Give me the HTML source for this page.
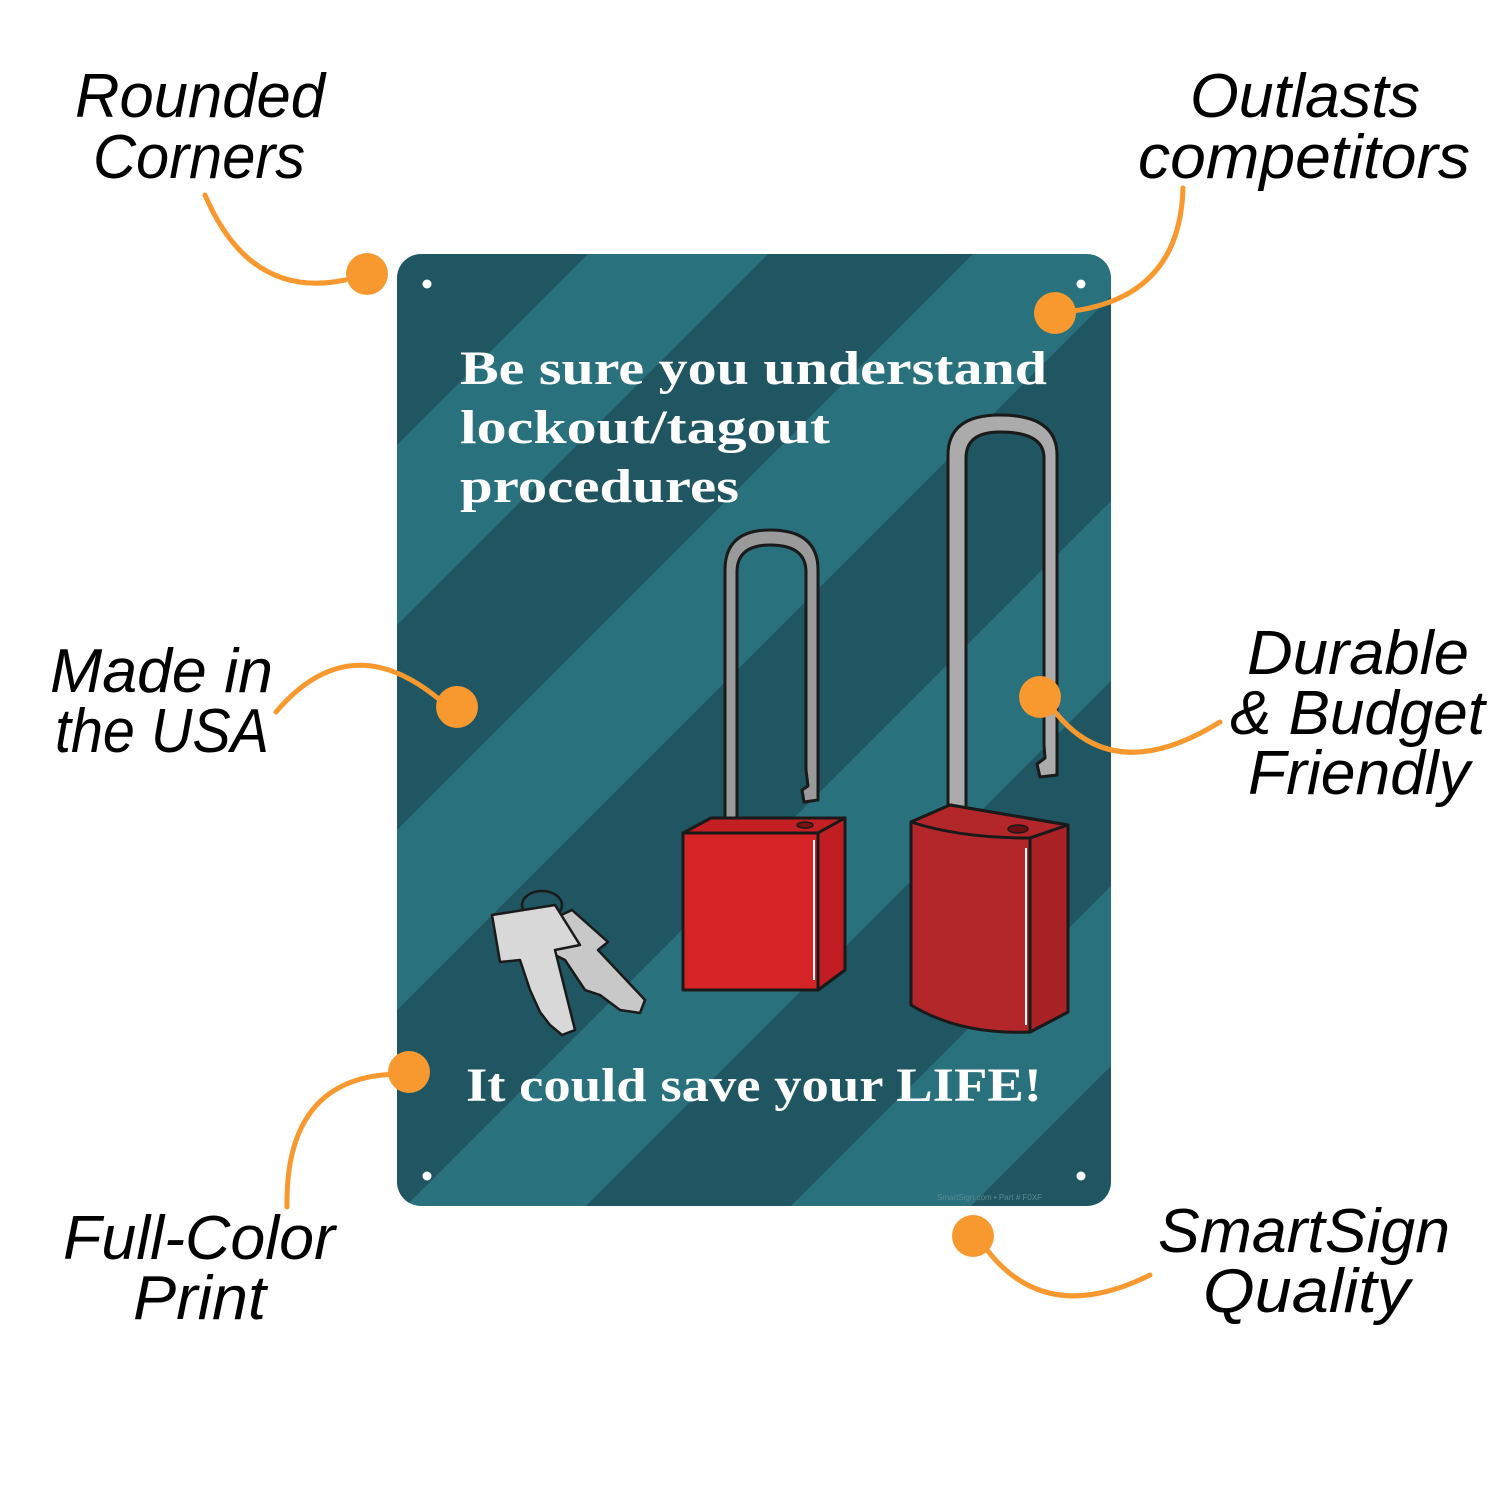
<!DOCTYPE html>
<html><head><meta charset="utf-8"><style>
html,body{margin:0;padding:0;background:#fff;width:1500px;height:1500px;overflow:hidden}
svg{display:block}
</style></head><body>
<svg width="1500" height="1500" viewBox="0 0 1500 1500" xmlns="http://www.w3.org/2000/svg">
<defs>
<pattern id="st" patternUnits="userSpaceOnUse" width="272.2" height="100" patternTransform="rotate(45)">
<rect x="0" y="0" width="272.2" height="100" fill="#1f5662"/>
<rect x="51" y="0" width="127.3" height="100" fill="#29717c"/>
</pattern>
</defs>
<rect x="397" y="254" width="714" height="952" rx="24" fill="url(#st)"/>
<g fill="#fff">
<circle cx="427" cy="284" r="4.5"/><circle cx="1081" cy="284" r="4.5"/>
<circle cx="427" cy="1176" r="4.5"/><circle cx="1081" cy="1176" r="4.5"/>
</g>
<g font-family="Liberation Serif, serif" font-weight="bold" fill="#fff">
<text x="460" y="384" font-size="48" textLength="587" lengthAdjust="spacingAndGlyphs">Be sure you understand</text>
<text x="460" y="443" font-size="48" textLength="370" lengthAdjust="spacingAndGlyphs">lockout/tagout</text>
<text x="460" y="502" font-size="48" textLength="279" lengthAdjust="spacingAndGlyphs">procedures</text>
<text x="466" y="1101" font-size="48" textLength="576" lengthAdjust="spacingAndGlyphs">It could save your LIFE!</text>
</g>
<text x="937" y="1200" font-family="Liberation Sans, sans-serif" font-size="8" fill="#5a8a92">SmartSign.com • Part # F0XF</text>

<g stroke="#1a1a1a" stroke-width="3" stroke-linejoin="round">
<path d="M725,826 L725,570 Q725,530 770,530 Q818,530 818,570 L818,800 L804,802 L802,790 L808,786 L806,770 L806,572 Q806,545 770,545 Q737,545 737,572 L737,826 Z" fill="#9a9a9a"/>
<path d="M683,833 L818,818 L845,818 L845,970 L818,990 L683,990 Z" fill="#d62326"/>
<path d="M683,833 L711,818 L845,818 L818,833 Z" fill="#c41f22"/>
<path d="M818,833 L845,818 L845,970 L818,990 Z" fill="#c01e22"/>
<ellipse cx="805" cy="825" rx="8" ry="3" fill="#7a1214" stroke-width="1.5"/>
</g>
<line x1="814" y1="840" x2="814" y2="980" stroke="#fff" stroke-width="2"/>
<g stroke="#1a1a1a" stroke-width="3" stroke-linejoin="round">
<path d="M948,816 L948,455 Q948,415 1000,415 Q1057,415 1057,455 L1057,775 L1040,777 L1037,764 L1045,758 L1044,745 L1044,458 Q1044,432 1000,432 Q966,432 966,458 L966,816 Z" fill="#ababab"/>
<path d="M911,822 L950,805 L1068,825 L1068,1012 L1030,1032 Q960,1035 911,1005 Z" fill="#b3262a"/>
<path d="M911,822 L950,805 L1068,825 L1030,838 Q960,838 911,822 Z" fill="#b3262a"/>
<path d="M1030,838 L1068,825 L1068,1012 L1030,1032 Z" fill="#a82226"/>
<ellipse cx="1018" cy="829" rx="10" ry="4" fill="#6a1012" stroke-width="1.5"/>
</g>
<line x1="1026" y1="848" x2="1026" y2="1025" stroke="#fff" stroke-width="2"/>
<g stroke="#1a1a1a" stroke-width="2.5" stroke-linejoin="round" fill="#c8c8c8">
<ellipse cx="542" cy="905" rx="20" ry="14" fill="none"/>
<path d="M540,925 L572,910 L608,942 L598,950 L645,1000 L640,1013 L620,1010 L600,995 L585,990 L575,975 L565,960 L545,950 Z"/>
<path d="M492,915 L555,905 L580,945 L555,950 L575,1030 L562,1035 L550,1025 L540,1012 L530,990 L520,960 L500,962 Z" fill="#d8d8d8"/>
</g>

<g stroke="#f7992f" stroke-width="5" fill="none" stroke-linecap="round">
<path d="M205,195 Q250,300 345,280"/>
<path d="M1183,188 Q1180,300 1065,312"/>
<path d="M276,712 Q350,625 440,700"/>
<path d="M1050,705 Q1110,790 1220,722"/>
<path d="M400,1074 Q285,1075 287,1207"/>
<path d="M980,1240 Q1040,1330 1150,1275"/>
</g>
<g fill="#f7992f">
<circle cx="367" cy="274" r="21"/>
<circle cx="1055" cy="313" r="21"/>
<circle cx="457" cy="707" r="21"/>
<circle cx="1040" cy="697" r="21"/>
<circle cx="409" cy="1072" r="21"/>
<circle cx="973" cy="1236" r="21"/>
</g>
<g font-family="Liberation Sans, sans-serif" font-style="italic" font-size="62" fill="#000">
<text x="75" y="117" textLength="250" lengthAdjust="spacingAndGlyphs">Rounded</text>
<text x="93" y="178" textLength="212" lengthAdjust="spacingAndGlyphs">Corners</text>
<text x="1190" y="117" textLength="230" lengthAdjust="spacingAndGlyphs">Outlasts</text>
<text x="1138" y="178" textLength="332" lengthAdjust="spacingAndGlyphs">competitors</text>
<text x="50" y="692" textLength="223" lengthAdjust="spacingAndGlyphs">Made in</text>
<text x="55" y="752" textLength="214" lengthAdjust="spacingAndGlyphs">the USA</text>
<text x="1247" y="674" textLength="222" lengthAdjust="spacingAndGlyphs">Durable</text>
<text x="1230" y="734" textLength="255" lengthAdjust="spacingAndGlyphs">&amp; Budget</text>
<text x="1248" y="794" textLength="222" lengthAdjust="spacingAndGlyphs">Friendly</text>
<text x="63" y="1259" textLength="272" lengthAdjust="spacingAndGlyphs">Full-Color</text>
<text x="133" y="1319" textLength="133" lengthAdjust="spacingAndGlyphs">Print</text>
<text x="1158" y="1252" textLength="292" lengthAdjust="spacingAndGlyphs">SmartSign</text>
<text x="1203" y="1312" textLength="207" lengthAdjust="spacingAndGlyphs">Quality</text>
</g>
</svg>
</body></html>
